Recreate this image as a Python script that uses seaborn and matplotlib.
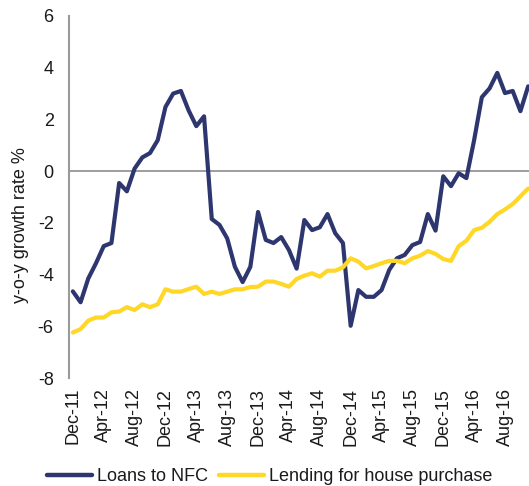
import seaborn as sns
import matplotlib.pyplot as plt
import pandas as pd

# monthly, Dec-11 .. Nov-16
months = pd.date_range("2011-12-01", periods=60, freq="MS").strftime("%b-%y").tolist()

loans_nfc = [
    -4.65, -5.07, -4.15, -3.56, -2.90, -2.78, -0.46, -0.78, 0.10, 0.53,
    0.70, 1.20, 2.48, 3.00, 3.10, 2.35, 1.74, 2.12, -1.85, -2.08,
    -2.60, -3.70, -4.29, -3.70, -1.58, -2.66, -2.78, -2.55, -3.05, -3.77,
    -1.89, -2.28, -2.17, -1.66, -2.40, -2.78, -5.98, -4.60, -4.86, -4.86,
    -4.60, -3.82, -3.37, -3.24, -2.86, -2.74, -1.66, -2.30, -0.20, -0.58,
    -0.08, -0.27, 1.20, 2.86, 3.20, 3.80, 3.02, 3.10, 2.32, 3.28,
]
house_purchase = [
    -6.24, -6.11, -5.78, -5.66, -5.66, -5.46, -5.43, -5.26, -5.37, -5.15,
    -5.26, -5.15, -4.57, -4.66, -4.66, -4.56, -4.47, -4.75, -4.66, -4.75,
    -4.66, -4.57, -4.57, -4.48, -4.47, -4.27, -4.27, -4.36, -4.47, -4.17,
    -4.04, -3.95, -4.08, -3.85, -3.85, -3.72, -3.37, -3.50, -3.76, -3.67,
    -3.56, -3.47, -3.47, -3.56, -3.37, -3.27, -3.09, -3.20, -3.40, -3.47,
    -2.90, -2.69, -2.28, -2.19, -1.96, -1.66, -1.48, -1.27, -0.97, -0.67,
]
series_names = ["Loans to NFC", "Lending for house purchase"]
colors = ["#2E366F", "#FFD726"]

df = pd.DataFrame({
    "idx": list(range(len(months))) * 2,
    "value": loans_nfc + house_purchase,
    "series": [series_names[0]] * len(months) + [series_names[1]] * len(months),
})

sns.set_style("white")
plt.rcParams["font.family"] = ["Liberation Sans", "DejaVu Sans"]
plt.rcParams["axes.unicode_minus"] = False
txt = "#1a1a1a"
fs = 13

fig = plt.figure(figsize=(5.29, 4.86), dpi=100)
ax = fig.add_axes([69 / 529, 108 / 486, 463 / 529, 362 / 486])

ax.axhline(0, color="#8c8c8c", lw=1.2, zorder=1)
sns.lineplot(data=df, x="idx", y="value", hue="series", hue_order=series_names,
             palette=colors, linewidth=3, ax=ax, zorder=3)

ax.set_xlim(-0.5, len(months) - 0.5)
ax.set_ylim(-8, 6)
ax.set_yticks(range(-8, 7, 2))
ax.set_xticks(range(0, len(months), 4))
ax.set_xticklabels(months[::4], rotation=90)
ax.tick_params(axis="y", length=0, pad=11, labelsize=fs, labelcolor=txt)
ax.tick_params(axis="x", length=0, pad=7, labelsize=fs, labelcolor=txt)
ax.set_xlabel("")
ax.set_ylabel("y-o-y growth rate %", fontsize=fs, color=txt)
ax.yaxis.set_label_coords(-0.087, 0.423)

for s in ["top", "right", "bottom"]:
    ax.spines[s].set_visible(False)
ax.spines["left"].set_color("#9a9a9a")
ax.spines["left"].set_linewidth(1.5)

sns.move_legend(ax, "center", bbox_to_anchor=(0.51, 0.019),
                bbox_transform=fig.transFigure, ncol=2, frameon=False,
                title=None, fontsize=fs, handlelength=2.5,
                handletextpad=0.28, columnspacing=0.6)
leg = ax.get_legend()
for t in leg.get_texts():
    t.set_color(txt)
for h in leg.get_lines():
    h.set_linewidth(3.2)

fig.savefig("out.png", dpi=100)
